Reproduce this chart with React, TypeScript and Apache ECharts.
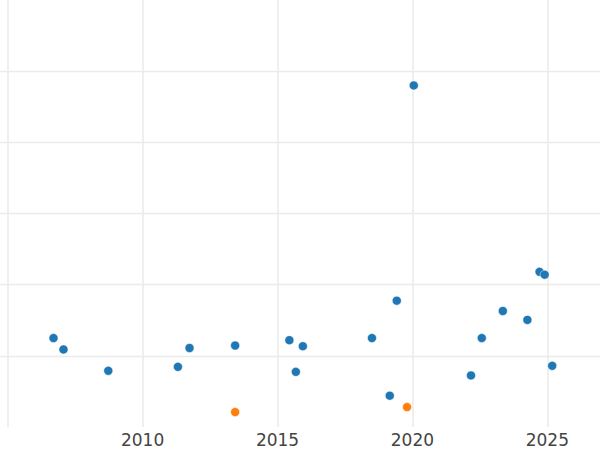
import React, { useEffect, useRef } from "react";
import * as echarts from "echarts";

const blueYears = [2006.7, 2007.07, 2008.73, 2011.31, 2011.74, 2013.43, 2015.44, 2015.68, 2015.94, 2018.5, 2019.16, 2019.42, 2020.05, 2022.17, 2022.57, 2023.35, 2024.26, 2024.71, 2024.9, 2025.18];
const blueValues = [12.5, 10.9, 7.9, 8.45, 11.1, 11.45, 12.2, 7.75, 11.35, 12.5, 4.4, 17.75, 48.0, 7.25, 12.5, 16.3, 15.05, 21.8, 21.4, 8.6];
const orangeYears = [2013.43, 2019.8];
const orangeValues = [2.1, 2.8];

const xTickInterval = 5;
const yTickInterval = 10;
const xLabelsShown = [2010, 2015, 2020, 2025];

export default function App() {
  const ref = useRef<HTMLDivElement>(null);
  useEffect(() => {
    if (!ref.current) return;
    const chart = echarts.init(ref.current, null, { renderer: "svg" });
    const blue = blueYears.map((x, i) => [x, blueValues[i]]);
    const orange = orangeYears.map((x, i) => [x, orangeValues[i]]);
    chart.setOption({
      animation: false,
      backgroundColor: "#ffffff",
      grid: {
        left: -127.3,
        right: -82.3,
        top: 0,
        bottom: 23,
        containLabel: false,
        outerBoundsMode: "none",
      },
      xAxis: {
        type: "value",
        min: 2000,
        max: 2030,
        interval: xTickInterval,
        axisLine: { show: false },
        axisTick: { show: false },
        axisLabel: {
          color: "#444444",
          fontSize: 17,
          fontFamily: "DejaVu Sans",
          margin: 4,
          formatter: (v: number) => {
            const y = Math.round(v);
            return xLabelsShown.indexOf(y) >= 0 ? String(y) : "";
          },
        },
        splitLine: { show: true, lineStyle: { color: "#ebebeb", width: 1.6 } },
      },
      yAxis: {
        type: "value",
        min: 0,
        max: 60,
        interval: yTickInterval,
        axisLine: { show: false },
        axisTick: { show: false },
        axisLabel: { show: false },
        splitLine: {
          show: true,
          showMinLine: false,
          showMaxLine: false,
          lineStyle: { color: "#ebebeb", width: 1.3 },
        },
      },
      series: [
        {
          type: "scatter",
          data: blue,
          symbolSize: 9,
          itemStyle: { color: "#1f77b4", borderColor: "#ffffff", borderWidth: 0.5, opacity: 1 },
        },
        {
          type: "scatter",
          data: orange,
          symbolSize: 9,
          itemStyle: { color: "#ff7f0e", borderColor: "#ffffff", borderWidth: 0.5, opacity: 1 },
        },
      ],
    });
    return () => chart.dispose();
  }, []);
  return (
    <div
      ref={ref}
      style={{ position: "fixed", left: 0, top: 0, width: 600, height: 450 }}
    />
  );
}
